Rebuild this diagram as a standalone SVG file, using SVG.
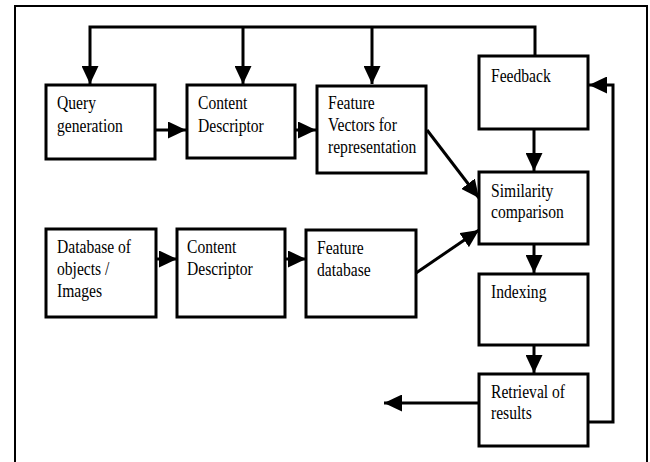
<svg xmlns="http://www.w3.org/2000/svg" width="650" height="462" viewBox="0 0 650 462">
<style>
.box{fill:#fff;stroke:#000;stroke-width:3}
.ln{fill:none;stroke:#000;stroke-width:3}
text{font-family:'Liberation Serif','Times New Roman',serif;font-size:15.6px;fill:#000}
</style>
<defs>
<marker id="ah" markerUnits="userSpaceOnUse" markerWidth="18" markerHeight="17" refX="18" refY="8.5" orient="auto" viewBox="0 0 18 17">
<path d="M0,0 L18,8.5 L0,17 Z" fill="#000"/>
</marker>
</defs>
<rect width="650" height="462" fill="#fff"/>
<path d="M15,462 V6 H647 V462" fill="none" stroke="#000" stroke-width="2"/>
<g id="connectors">
<path class="ln" d="M535,56 V27 H90 V84" marker-end="url(#ah)"/>
<path class="ln" d="M243,27 V84" marker-end="url(#ah)"/>
<path class="ln" d="M372,27 V84" marker-end="url(#ah)"/>
<path class="ln" d="M155,130 H186" marker-end="url(#ah)"/>
<path class="ln" d="M295,130 H316" marker-end="url(#ah)"/>
<path class="ln" d="M427,130 L479,198" marker-end="url(#ah)"/>
<path class="ln" d="M534,129 V171" marker-end="url(#ah)"/>
<path class="ln" d="M155,259 H177" marker-end="url(#ah)"/>
<path class="ln" d="M285,259 H306" marker-end="url(#ah)"/>
<path class="ln" d="M416,273 L479,230" marker-end="url(#ah)"/>
<path class="ln" d="M534,244 V273" marker-end="url(#ah)"/>
<path class="ln" d="M534,345 V373" marker-end="url(#ah)"/>
<path class="ln" d="M479,403 H384" marker-end="url(#ah)"/>
<path class="ln" d="M588,422 H613 V85 H589" marker-end="url(#ah)"/>
</g>
<g id="query">
<rect class="box" x="46" y="85" width="109" height="74"/>
<text transform="translate(57,109) scale(1,1.14)">Query</text>
<text transform="translate(57,132) scale(1,1.14)">generation</text>
</g>
<g id="content1">
<rect class="box" x="187" y="85" width="108" height="73"/>
<text transform="translate(198,109) scale(1,1.14)">Content</text>
<text transform="translate(198,132) scale(1,1.14)">Descriptor</text>
</g>
<g id="featurevectors">
<rect class="box" x="317" y="86" width="109" height="87"/>
<text transform="translate(328,109) scale(1,1.14)">Feature</text>
<text transform="translate(328,131) scale(1,1.14)">Vectors for</text>
<text transform="translate(328,153) scale(1,1.14)">representation</text>
</g>
<g id="feedback">
<rect class="box" x="479" y="56" width="109" height="73"/>
<text transform="translate(491,82) scale(1,1.14)">Feedback</text>
</g>
<g id="similarity">
<rect class="box" x="479" y="172" width="109" height="72"/>
<text transform="translate(491,197) scale(1,1.14)">Similarity</text>
<text transform="translate(491,218) scale(1,1.14)">comparison</text>
</g>
<g id="database">
<rect class="box" x="46" y="229" width="110" height="88"/>
<text transform="translate(57,253) scale(1,1.14)">Database of</text>
<text transform="translate(57,275) scale(1,1.14)">objects /</text>
<text transform="translate(57,297) scale(1,1.14)">Images</text>
</g>
<g id="content2">
<rect class="box" x="177" y="229" width="108" height="88"/>
<text transform="translate(187,253) scale(1,1.14)">Content</text>
<text transform="translate(187,275) scale(1,1.14)">Descriptor</text>
</g>
<g id="featuredb">
<rect class="box" x="306" y="230" width="110" height="87"/>
<text transform="translate(317,254) scale(1,1.14)">Feature</text>
<text transform="translate(317,276) scale(1,1.14)">database</text>
</g>
<g id="indexing">
<rect class="box" x="479" y="274" width="109" height="71"/>
<text transform="translate(491,298) scale(1,1.14)">Indexing</text>
</g>
<g id="retrieval">
<rect class="box" x="479" y="374" width="109" height="72"/>
<text transform="translate(491,398) scale(1,1.14)">Retrieval of</text>
<text transform="translate(491,419) scale(1,1.14)">results</text>
</g>
</svg>
